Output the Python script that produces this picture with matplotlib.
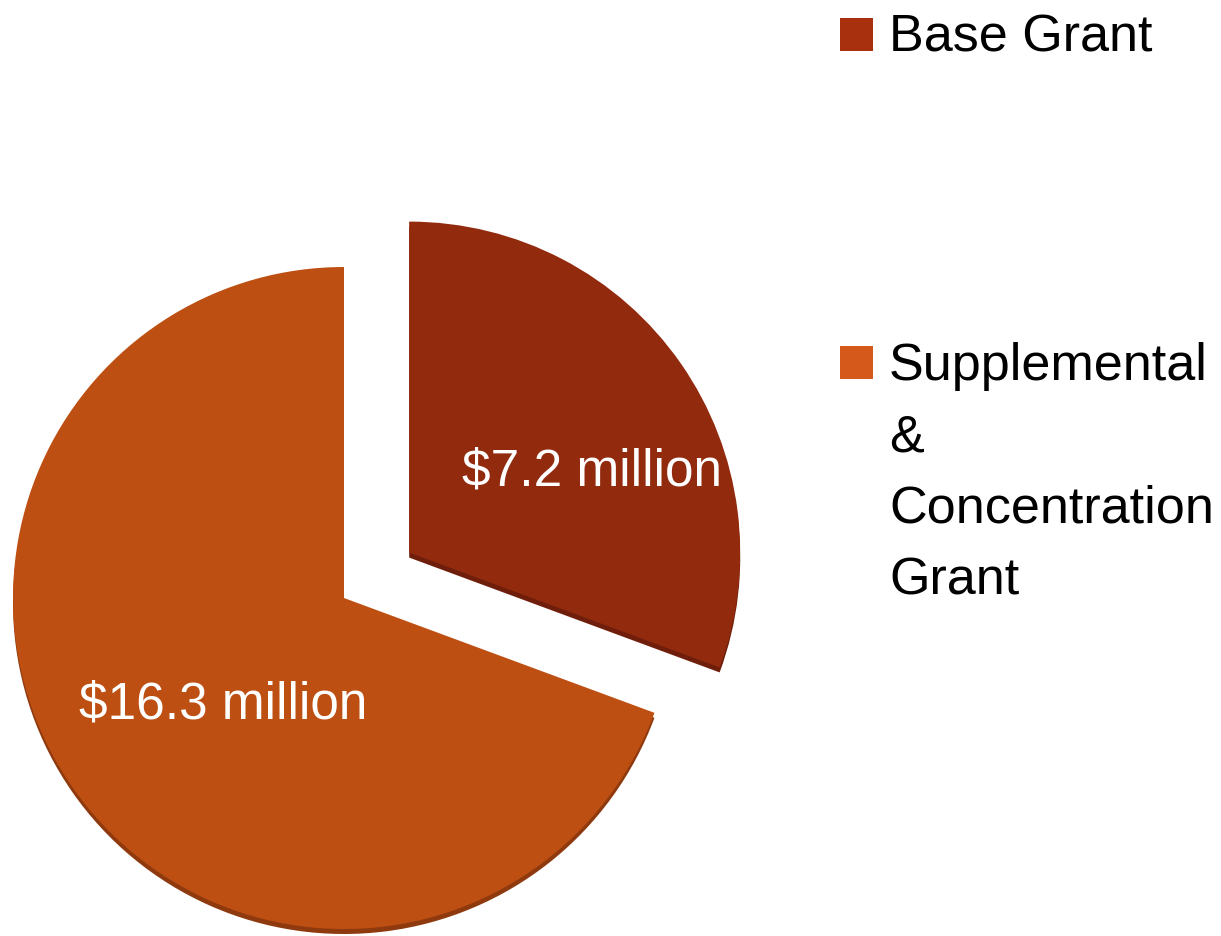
import matplotlib
matplotlib.use("Agg")
import matplotlib.pyplot as plt
from matplotlib.patches import Rectangle

labels = ["Base Grant", "Supplemental\n&\nConcentration\nGrant"]
values = [7.2, 16.3]
value_labels = ["$7.2 million", "$16.3 million"]
slice_colors = ["#922A0E", "#BE4F12"]
edge_colors = ["#6E1E0A", "#8F3A0E"]
legend_colors = ["#A8300F", "#D4591A"]

W, H = 1221, 936
fig = plt.figure(figsize=(W / 100, H / 100), dpi=100)
ax = fig.add_axes([0, 0, 1, 1])

FAM = ["Liberation Sans", "DejaVu Sans"]

cx, cy, r = 344, H - 598, 331
explode = [0.24 * r, 0.0]

# darker "thickness" layer
ax.pie(values, colors=edge_colors, startangle=90, counterclock=False,
       explode=explode, center=(cx, cy - 5), radius=r,
       wedgeprops=dict(linewidth=0))
wedges, _ = ax.pie(values, colors=slice_colors, startangle=90, counterclock=False,
                   explode=explode, center=(cx, cy), radius=r,
                   wedgeprops=dict(linewidth=0))

ax.set_xlim(0, W)
ax.set_ylim(0, H)
ax.set_aspect("equal")
ax.axis("off")

ax.text(592, H - 472, value_labels[0], color="white", fontsize=37,
        family=FAM, ha="center", va="center")
ax.text(223, H - 705, value_labels[1], color="white", fontsize=37,
        family=FAM, ha="center", va="center")

# legend
legend_y = [H - 34, H - 362]
for lab, col, y in zip(labels, legend_colors, legend_y):
    ax.add_patch(Rectangle((840, y - 16.5), 33, 33, color=col, lw=0))
    ax.text(889, y + 20, lab, fontsize=37.5, family=FAM, color="black",
            ha="left", va="top", linespacing=1.59)

fig.savefig("out.png", dpi=100)
